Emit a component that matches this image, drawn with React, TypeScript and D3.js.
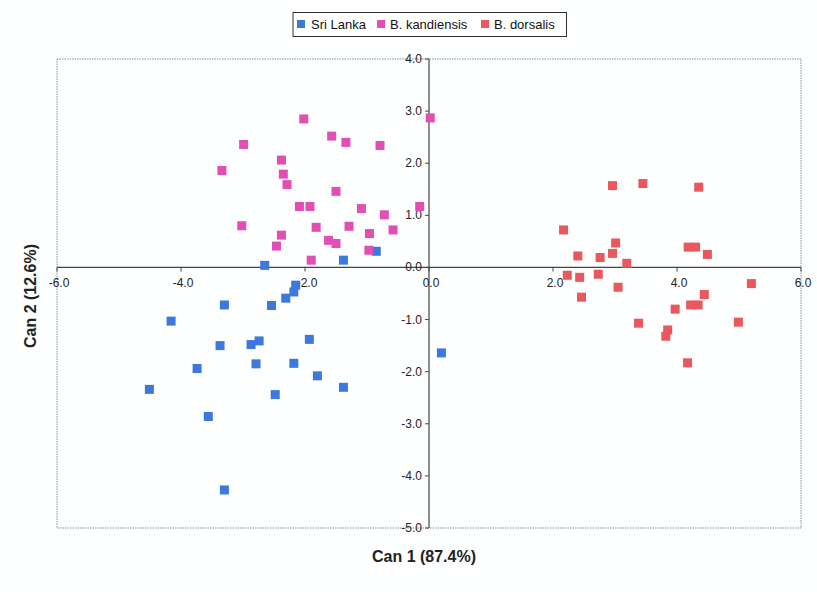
import React from "react";
import * as d3 from "d3";

const seriesNames = ["Sri Lanka", "B. kandiensis", "B. dorsalis"];
const seriesColors = ["#3d78dc", "#e14fb5", "#e8585c"];

const sriLankaX = [-2.65, -1.38, -0.85, -2.15, -2.18, -2.31, -2.54, -3.30, -4.16, -3.37, -2.87, -2.74, -1.93, -3.74, -2.79, -2.18, -1.80, -1.38, -4.51, -2.48, -3.56, -3.30, 0.20];
const sriLankaY = [0.04, 0.14, 0.31, -0.34, -0.47, -0.59, -0.73, -0.72, -1.03, -1.50, -1.48, -1.41, -1.38, -1.94, -1.85, -1.84, -2.08, -2.30, -2.34, -2.44, -2.86, -4.27, -1.64];

const kandiensisX = [-3.34, -2.99, -3.02, -2.38, -2.35, -2.29, -2.38, -2.46, -2.02, -2.09, -1.92, -1.82, -1.90, -1.57, -1.34, -1.50, -1.62, -1.50, -1.29, -1.09, -0.79, -0.72, -0.96, -0.97, -0.58, -0.15, 0.02];
const kandiensisY = [1.86, 2.36, 0.80, 2.06, 1.79, 1.59, 0.62, 0.41, 2.85, 1.17, 1.17, 0.77, 0.14, 2.52, 2.40, 1.46, 0.52, 0.46, 0.79, 1.13, 2.34, 1.01, 0.65, 0.33, 0.72, 1.17, 2.87];

const dorsalisX = [2.96, 3.45, 4.35, 2.17, 3.01, 2.40, 2.76, 2.96, 3.19, 4.18, 4.30, 4.49, 2.23, 2.43, 2.73, 3.05, 2.46, 5.20, 4.44, 4.22, 4.34, 3.97, 3.38, 4.99, 3.85, 3.82, 4.17];
const dorsalisY = [1.57, 1.61, 1.54, 0.72, 0.47, 0.22, 0.19, 0.27, 0.08, 0.39, 0.39, 0.25, -0.15, -0.19, -0.13, -0.38, -0.57, -0.31, -0.52, -0.72, -0.72, -0.80, -1.07, -1.05, -1.20, -1.32, -1.83];

const xTicks = [-6, -4, -2, 0, 2, 4, 6];
const yTicks = [4, 3, 2, 1, 0, -1, -2, -3, -4, -5];
const xTitle = "Can 1 (87.4%)";
const yTitle = "Can 2 (12.6%)";

const W = 817;
const H = 592;

export default function App() {
  const x = d3.scaleLinear().domain([-6, 6]).range([57, 801]);
  const y = d3.scaleLinear().domain([-5, 4]).range([528, 59]);
  const series = [
    { xs: sriLankaX, ys: sriLankaY },
    { xs: kandiensisX, ys: kandiensisY },
    { xs: dorsalisX, ys: dorsalisY },
  ];
  const ms = 9;
  const font = "'Liberation Sans', Arial, sans-serif";
  const legendItems = [
    { mx: 297, tx: 311 },
    { mx: 377, tx: 390 },
    { mx: 481, tx: 494 },
  ];
  return (
    <svg
      width={W}
      height={H}
      style={{ position: "absolute", left: 0, top: 0, background: "#fff" }}
      fontFamily={font}
    >
      <rect x={0} y={0} width={W} height={H} fill="#fdfefe" />
      {/* plot area border */}
      <rect
        x={x(-6)}
        y={y(4)}
        width={x(6) - x(-6)}
        height={y(-5) - y(4)}
        fill="none"
        stroke="#8a8f99"
        strokeWidth={1}
        strokeDasharray="1.5,1"
      />
      {/* axes */}
      <line x1={x(-6)} x2={x(6)} y1={y(0)} y2={y(0)} stroke="#444" strokeWidth={1.2} />
      <line x1={x(0)} x2={x(0)} y1={y(4)} y2={y(-5)} stroke="#444" strokeWidth={1.2} />
      {xTicks.map((t) => (
        <g key={"xt" + t}>
          <line x1={x(t)} x2={x(t)} y1={y(0)} y2={y(0) + 4} stroke="#444" />
          <text x={x(t) + 2} y={y(0) + 20} fontSize={12} textAnchor="middle" fill="#222">
            {t.toFixed(1)}
          </text>
        </g>
      ))}
      {yTicks.map((t) => (
        <g key={"yt" + t}>
          <line x1={x(0) - 4} x2={x(0)} y1={y(t)} y2={y(t)} stroke="#444" />
          <text x={x(0) - 7} y={y(t) + 4} fontSize={12} textAnchor="end" fill="#222">
            {t.toFixed(1)}
          </text>
        </g>
      ))}
      {/* points */}
      {series.map((s, si) =>
        s.xs.map((xv, i) => (
          <rect
            key={si + "-" + i}
            x={x(xv) - ms / 2}
            y={y(s.ys[i]) - ms / 2}
            width={ms}
            height={ms}
            fill={seriesColors[si]}
          />
        ))
      )}
      {/* legend */}
      <rect x={293} y={12.5} width={273.5} height={24} fill="#fff" stroke="#333" strokeWidth={1} />
      {seriesNames.map((n, i) => (
        <g key={n}>
          <rect x={legendItems[i].mx} y={20} width={8} height={8} fill={seriesColors[i]} />
          <text x={legendItems[i].tx} y={29} fontSize={13} fill="#111">
            {n}
          </text>
        </g>
      ))}
      {/* axis titles */}
      <text x={424} y={562} fontSize={16} fontWeight="bold" textAnchor="middle" fill="#222">
        {xTitle}
      </text>
      <text
        transform={`translate(36, 296) rotate(-90)`}
        fontSize={16}
        fontWeight="bold"
        textAnchor="middle"
        fill="#222"
      >
        {yTitle}
      </text>
    </svg>
  );
}
